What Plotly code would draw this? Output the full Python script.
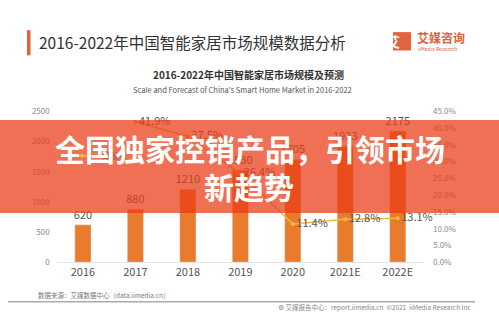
import plotly.graph_objects as go

years = ["2016", "2017", "2018", "2019", "2020", "2021E", "2022E"]
market_size = [620, 880, 1210, 1530, 1705, 1923, 2175]
growth_years = ["2017", "2018", "2019", "2020", "2021E", "2022E"]
growth_rate = [41.9, 37.5, 26.4, 11.4, 12.8, 13.1]
left_ticks = [0, 500, 1000, 1500, 2000, 2500]
right_ticks = [0, 5, 10, 15, 20, 25, 30, 35, 40, 45]

W, H = 499, 332
FONT = "Noto Sans CJK SC, Noto Sans, sans-serif"

def px(x):
    return x / W

def py(y):
    return 1 - y / H

fig = go.Figure()
fig.add_trace(go.Bar(
    x=years, y=market_size, width=0.31,
    marker=dict(color="#E97C2C"),
    text=[str(v) for v in market_size], textposition="outside",
    constraintext="none",
    textfont=dict(size=11, color="#555555", family=FONT),
    cliponaxis=False, showlegend=False, name="市场规模",
))
fig.add_trace(go.Scatter(
    x=growth_years, y=growth_rate, yaxis="y2", mode="lines+markers+text",
    line=dict(color="#F4B93A", width=1.6),
    marker=dict(size=4, color="#F4B93A"),
    text=[f"{v:.1f}%" for v in growth_rate], textposition="middle right",
    textfont=dict(size=11, color="#555555", family=FONT),
    cliponaxis=False, name="增长率", showlegend=True,
))

fig.update_layout(
    width=W, height=H, margin=dict(l=0, r=0, t=0, b=0),
    paper_bgcolor="white", plot_bgcolor="white",
    font=dict(family=FONT),
    xaxis=dict(domain=[px(56.7), px(424)], range=[-0.5, 6.5], type="category",
               showline=True, linecolor="#E3E3E3", linewidth=1, ticks="",
               tickfont=dict(size=11, color="#555555"), showgrid=False),
    yaxis=dict(domain=[py(265), py(109)], range=[0, 2500], tickvals=left_ticks,
               showgrid=False, zeroline=False, showline=False,
               tickfont=dict(size=8, color="#8A8A8A"), ticklabelstandoff=6),
    yaxis2=dict(overlaying="y", side="right", range=[0, 45], tickvals=right_ticks,
                ticktext=[f"{v:.1f}%" for v in right_ticks],
                showgrid=False, zeroline=False, showline=False,
                tickfont=dict(size=8, color="#8A8A8A"), ticklabelstandoff=8),
    legend=dict(x=px(62), y=py(140), xanchor="left", yanchor="top",
                bgcolor="rgba(0,0,0,0)", font=dict(size=8, color="#666666")),
)

shapes = [
    dict(type="rect", xref="paper", yref="paper", x0=px(27), x1=px(30.5), y0=py(51), y1=py(25),
         fillcolor="#E0633A", line=dict(width=0)),
    dict(type="rect", xref="paper", yref="paper", x0=px(393), x1=px(411), y0=py(46), y1=py(27),
         fillcolor="#E2643E", line=dict(width=0)),
    dict(type="line", xref="paper", yref="paper", x0=px(8), x1=px(475), y0=py(306), y1=py(306),
         line=dict(color="#ABABAB", width=1.5)),
    dict(type="rect", xref="paper", yref="paper", x0=0, x1=1, y0=py(214), y1=py(118),
         fillcolor="rgba(234,59,22,0.73)", line=dict(width=0), layer="above"),
]
fig.update_layout(shapes=shapes)

ann = [
    dict(x=px(37), y=py(37.5), text="2016-2022年中国智能家居市场规模数据分析", xanchor="left",
         font=dict(size=15.5, color="#333333")),
    dict(x=px(402), y=py(36.5), text="<b>艾</b>", font=dict(size=14, color="white")),
    dict(x=px(415), y=py(33), text="<b>艾媒咨询</b>", xanchor="left",
         font=dict(size=12, color="#E0603A")),
    dict(x=px(416), y=py(43.5), text="iiMedia Research", xanchor="left",
         font=dict(size=5, color="#E0603A")),
    dict(x=px(248), y=py(71), text="<b>2016-2022年中国智能家居市场规模及预测</b>",
         font=dict(size=10, color="#333333")),
    dict(x=px(242), y=py(86), text="Scale and Forecast of China's Smart Home Market in 2016-2022",
         font=dict(size=7.5, color="#555555")),
    dict(x=px(36), y=py(299), text="数据来源：艾媒数据中心（data.iimedia.cn）", xanchor="left",
         font=dict(size=6.5, color="#777777")),
    dict(x=px(276), y=py(311), text="⚙ 艾媒报告中心：report.iimedia.cn  ©2021  iiMedia Research Inc",
         xanchor="left", font=dict(size=6.5, color="#888888")),
    dict(x=px(250), y=py(147), text="<b>全国独家控销产品，引领市场</b>",
         font=dict(size=30, color="white")),
    dict(x=px(249), y=py(186), text="<b>新趋势</b>",
         font=dict(size=30, color="white")),
]
for a in ann:
    a.update(xref="paper", yref="paper", showarrow=False, yanchor=a.get("yanchor", "middle"))
fig.update_layout(annotations=ann)

fig.write_html("out.html")
